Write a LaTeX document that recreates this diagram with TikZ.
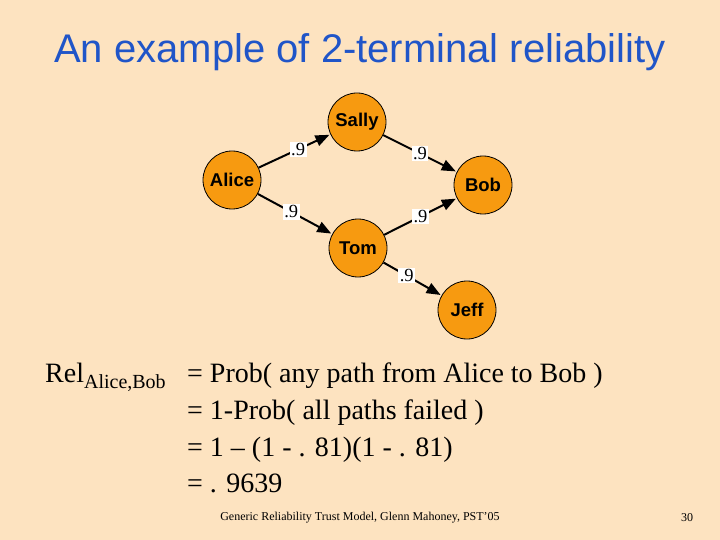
\documentclass[tikz,border=0pt]{standalone}
\usepackage{fontspec}
\setmainfont{Liberation Serif}
\newfontfamily\arialf{Liberation Sans}
\usetikzlibrary{arrows.meta}
\definecolor{bg}{HTML}{FDE3C0}
\definecolor{nodeor}{HTML}{F79A10}
\definecolor{titleblue}{HTML}{2055C8}
\tikzset{
  person/.style={circle,draw=black,line width=0.8pt,fill=nodeor,minimum size=58pt,inner sep=0pt,font=\arialf\bfseries\fontsize{18.5}{21}\selectfont},
  edge/.style={-{Triangle[length=14pt,width=11pt]},line width=2pt,shorten >=1pt},
  prob/.style={fill=white,inner sep=1.5pt,font=\fontsize{18.5}{21}\selectfont},
  body/.style={anchor=base west,font=\fontsize{28}{32}\selectfont,inner sep=0pt}
}
\begin{document}
\begin{tikzpicture}[x=1pt,y=-1pt]
\fill[bg] (0,0) rectangle (720,540);
\useasboundingbox (0,0) rectangle (720,540);
\node[font=\arialf\fontsize{40}{46}\selectfont,text=titleblue] (title) at (360,52) {An example of 2-terminal reliability};
\node[person] (sally) at (357,122) {Sally};
\node[person] (alice) at (232,180) {Alice};
\node[person] (bob) at (483,185) {Bob};
\node[person] (tom) at (358,248) {Tom};
\node[person] (jeff) at (467,310) {Jeff};
\draw[edge] (alice) -- node[prob,pos=0.55] {.9} (sally);
\draw[edge] (sally) -- node[prob,pos=0.5] {.9} (bob);
\draw[edge] (alice) -- node[prob,pos=0.45] {.9} (tom);
\draw[edge] (tom) -- node[prob,pos=0.5] {.9} (bob);
\draw[edge] (tom) -- node[prob,pos=0.4] {.9} (jeff);
\node[body] (rel) at (45,382) {Rel\raisebox{-6pt}{\fontsize{20}{22}\selectfont Alice,Bob}};
\node[body] (l1) at (187,382) {= Prob( any path from Alice to Bob )};
\node[body] (l2) at (187,419) {= 1-Prob( all paths failed )};
\node[body] (l3) at (187,456) {= 1 – (1 - . 81)(1 - . 81)};
\node[body] (l4) at (187,492) {= . 9639};
\node[font=\fontsize{12}{14}\selectfont] (foot) at (360,518) {Generic Reliability Trust Model, Glenn Mahoney, PST'05};
\node[font=\fontsize{12}{14}\selectfont] (pg) at (687,518) {30};
\end{tikzpicture}
\end{document}
